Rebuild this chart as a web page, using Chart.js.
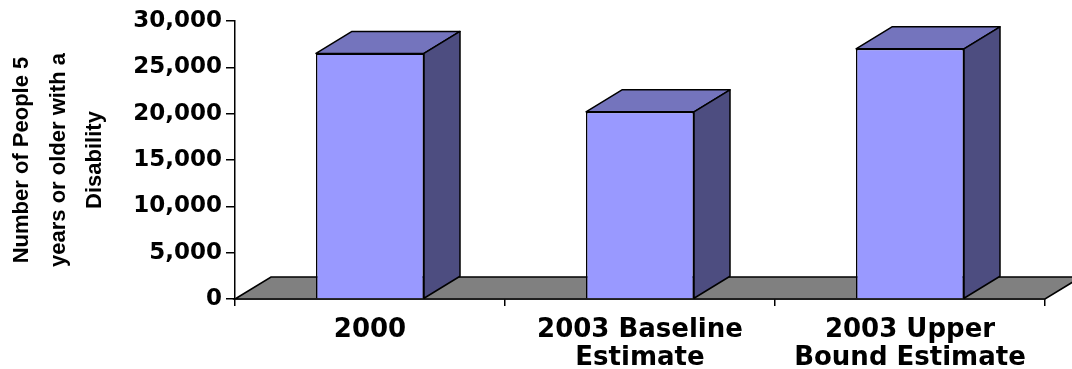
<!DOCTYPE html>
<html lang="en">
<head>
<meta charset="utf-8">
<title>People 5 years or older with a Disability</title>
<script src="https://cdn.jsdelivr.net/npm/chart.js@4"></script>
<style>
body { margin: 0; background: #fff; }
</style>
</head>
<body>
<canvas id="chart" width="1072" height="369"></canvas>
<script>
const categories = [['2000'], ['2003 Baseline', 'Estimate'], ['2003 Upper', 'Bound Estimate']];
const values = [26500, 20200, 27000];
const yTicks = [0, 5000, 10000, 15000, 20000, 25000, 30000];

const DEPTH_X = 36, DEPTH_Y = 22;

// fake 3D: grey floor under the bars, top + side faces over them
const bars3d = {
  id: 'bars3d',
  beforeDatasetsDraw(chart) {
    const ctx = chart.ctx;
    const a = chart.chartArea;
    ctx.save();
    ctx.beginPath();
    ctx.moveTo(a.left, a.bottom);
    ctx.lineTo(a.left + DEPTH_X, a.bottom - DEPTH_Y);
    ctx.lineTo(a.right + DEPTH_X, a.bottom - DEPTH_Y);
    ctx.lineTo(a.right, a.bottom);
    ctx.closePath();
    ctx.fillStyle = '#808080';
    ctx.fill();
    ctx.lineWidth = 1.5;
    ctx.strokeStyle = '#000';
    ctx.stroke();
    ctx.restore();
  },
  afterDatasetsDraw(chart) {
    const ctx = chart.ctx;
    const meta = chart.getDatasetMeta(0);
    ctx.save();
    ctx.lineWidth = 1.5;
    ctx.strokeStyle = '#000';
    ctx.lineJoin = 'round';
    meta.data.forEach(function (bar) {
      const p = bar.getProps(['x', 'y', 'base', 'width'], true);
      const l = p.x - p.width / 2, r = p.x + p.width / 2;
      // top
      ctx.beginPath();
      ctx.moveTo(l, p.y);
      ctx.lineTo(l + DEPTH_X, p.y - DEPTH_Y);
      ctx.lineTo(r + DEPTH_X, p.y - DEPTH_Y);
      ctx.lineTo(r, p.y);
      ctx.closePath();
      ctx.fillStyle = '#7474bd';
      ctx.fill();
      ctx.stroke();
      // side
      ctx.beginPath();
      ctx.moveTo(r, p.y);
      ctx.lineTo(r + DEPTH_X, p.y - DEPTH_Y);
      ctx.lineTo(r + DEPTH_X, p.base - DEPTH_Y);
      ctx.lineTo(r, p.base);
      ctx.closePath();
      ctx.fillStyle = '#4d4d80';
      ctx.fill();
      ctx.stroke();
    });
    ctx.restore();
  }
};

new Chart(document.getElementById('chart'), {
  type: 'bar',
  data: {
    labels: categories,
    datasets: [{
      data: values,
      backgroundColor: '#9999ff',
      borderColor: '#000',
      borderWidth: 1.5,
      categoryPercentage: 1.0,
      barPercentage: 0.4
    }]
  },
  options: {
    responsive: false,
    animation: false,
    layout: { padding: { left: 0, right: 27, top: 21, bottom: 0 } },
    plugins: { legend: { display: false }, tooltip: { enabled: false } },
    scales: {
      x: {
        offset: true,
        grid: { display: true, drawOnChartArea: false, offset: true, color: '#000', lineWidth: 1.5, tickLength: 7 },
        border: { display: true, color: '#000', width: 1.5 },
        ticks: {
          color: '#000',
          padding: 10,
          maxRotation: 0,
          autoSkip: false,
          font: { family: 'DejaVu Sans', weight: 'bold', size: 26, lineHeight: 1.09 }
        },
        afterFit(scale) { scale.height = 70; }
      },
      y: {
        min: 0,
        max: 30000,
        afterBuildTicks(scale) { scale.ticks = yTicks.map(v => ({ value: v })); },
        grid: { display: true, drawOnChartArea: false, color: '#000', lineWidth: 1.5, tickLength: 9 },
        border: { display: true, color: '#000', width: 1.5 },
        ticks: {
          color: '#000',
          padding: 4,
          font: { family: 'DejaVu Sans', weight: 'bold', size: 23 },
          callback: v => v.toLocaleString('en-US')
        },
        title: {
          display: true,
          text: ['Number of People 5', 'years or older with a', 'Disability'],
          color: '#000',
          padding: { top: 4, bottom: 0 },
          font: { family: 'Liberation Sans', weight: 'bold', size: 22, lineHeight: 1.66 }
        },
        afterFit(scale) { scale.width = 235; }
      }
    }
  },
  plugins: [bars3d]
});
</script>
</body>
</html>
